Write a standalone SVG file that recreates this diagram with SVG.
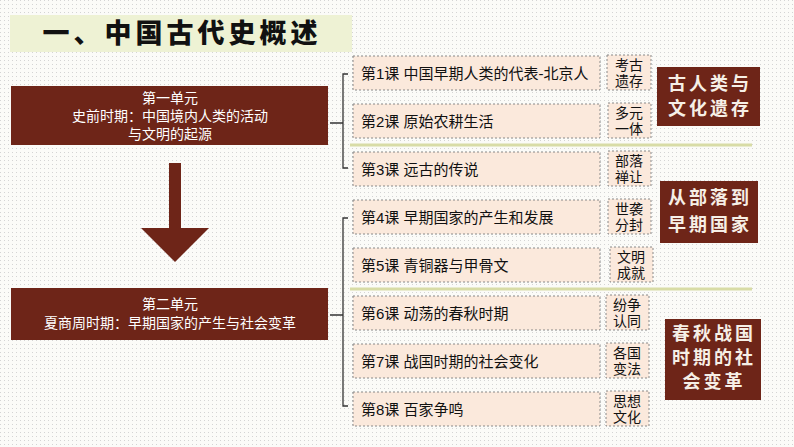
<svg xmlns="http://www.w3.org/2000/svg" width="794" height="447" viewBox="0 0 794 447">
<style>
.ls{fill:#fbe9dc;stroke:#888;stroke-width:1;stroke-dasharray:2 2}
.lt{font-family:"Liberation Sans","Noto Sans CJK SC",sans-serif;font-size:15px;fill:#111}
.st{font-family:"Liberation Sans","Noto Sans CJK SC",sans-serif;font-size:14px;fill:#111;text-anchor:middle}
.dk{fill:#6e2518}
.wt{font-family:"Liberation Sans","Noto Sans CJK SC",sans-serif;font-size:14px;fill:#fff;text-anchor:middle}
.bt{font-family:"Noto Sans CJK SC",serif;font-size:18px;font-weight:bold;fill:#f6efe6;text-anchor:middle;letter-spacing:3px}
.br{fill:none;stroke:#333;stroke-width:1.3}
.sep{stroke:#d8dca6;stroke-width:3}
</style>
<defs>
<pattern id="dots" width="4" height="4" patternUnits="userSpaceOnUse"><rect width="4" height="4" fill="#fbfbf8"/><rect width="1" height="1" fill="#d4d4d4"/></pattern>
</defs>
<rect width="794" height="447" fill="url(#dots)"/>
<g id="title"><rect x="10" y="15" width="342" height="37" fill="#eef2d4"/>
<text x="182" y="43" font-family="Noto Sans CJK SC,serif" font-size="27" font-weight="900" text-anchor="middle" fill="#111" letter-spacing="4">一、中国古代史概述</text></g>
<g id="connectors">
<path class="br" d="M348 74 H343 V168 H348 M343 123 H330"/>
<path class="br" d="M348 218 H343 V406 H348 M343 315 H330"/>
<path d="M169 163 H181 V228 H209 L175 262 L141 228 H169 Z" fill="#6e2518"/>
<line class="sep" x1="350" y1="145" x2="752" y2="145"/>
<line class="sep" x1="350" y1="289" x2="752" y2="289"/>
</g>
<g id="unit1"><rect class="dk" x="11" y="86" width="317" height="59"/>
<text class="wt" x="170" y="103">第一单元</text><text class="wt" x="170" y="121">史前时期：中国境内人类的活动</text><text class="wt" x="170" y="139">与文明的起源</text></g>
<g id="unit2"><rect class="dk" x="11" y="288" width="317" height="52"/>
<text class="wt" x="170" y="309">第二单元</text><text class="wt" x="170" y="328">夏商周时期：早期国家的产生与社会变革</text></g>
<g id="l1"><rect class="ls" x="353" y="56" width="247" height="34"/><text class="lt" x="361" y="79">第1课 中国早期人类的代表-北京人</text><rect class="ls" x="607" y="55" width="44" height="35"/><text class="st" x="629" y="70">考古</text><text class="st" x="629" y="86">遗存</text></g>
<g id="l2"><rect class="ls" x="353" y="104" width="247" height="34"/><text class="lt" x="361" y="127">第2课 原始农耕生活</text><rect class="ls" x="608" y="103" width="43" height="35"/><text class="st" x="629" y="118">多元</text><text class="st" x="629" y="134">一体</text></g>
<g id="l3"><rect class="ls" x="353" y="152" width="247" height="34"/><text class="lt" x="361" y="175">第3课 远古的传说</text><rect class="ls" x="608" y="151" width="43" height="35"/><text class="st" x="629" y="166">部落</text><text class="st" x="629" y="182">禅让</text></g>
<g id="l4"><rect class="ls" x="353" y="200" width="247" height="34"/><text class="lt" x="361" y="223">第4课 早期国家的产生和发展</text><rect class="ls" x="608" y="199" width="43" height="35"/><text class="st" x="629" y="214">世袭</text><text class="st" x="629" y="230">分封</text></g>
<g id="l5"><rect class="ls" x="353" y="248" width="247" height="34"/><text class="lt" x="361" y="271">第5课 青铜器与甲骨文</text><rect class="ls" x="610" y="247" width="43" height="35"/><text class="st" x="631" y="262">文明</text><text class="st" x="631" y="278">成就</text></g>
<g id="l6"><rect class="ls" x="353" y="296" width="247" height="34"/><text class="lt" x="361" y="319">第6课 动荡的春秋时期</text><rect class="ls" x="606" y="295" width="43" height="35"/><text class="st" x="627" y="310">纷争</text><text class="st" x="627" y="326">认同</text></g>
<g id="l7"><rect class="ls" x="353" y="344" width="247" height="34"/><text class="lt" x="361" y="367">第7课 战国时期的社会变化</text><rect class="ls" x="606" y="343" width="43" height="35"/><text class="st" x="627" y="358">各国</text><text class="st" x="627" y="374">变法</text></g>
<g id="l8"><rect class="ls" x="353" y="392" width="247" height="34"/><text class="lt" x="361" y="415">第8课 百家争鸣</text><rect class="ls" x="606" y="391" width="43" height="35"/><text class="st" x="627" y="406">思想</text><text class="st" x="627" y="422">文化</text></g>
<g id="s1"><rect class="dk" x="657" y="67" width="103" height="59"/><text class="bt" x="710" y="90">古人类与</text><text class="bt" x="710" y="115">文化遗存</text></g>
<g id="s2"><rect class="dk" x="660" y="181" width="98" height="62"/><text class="bt" x="710" y="204">从部落到</text><text class="bt" x="710" y="231">早期国家</text></g>
<g id="s3"><rect class="dk" x="665" y="319" width="96" height="81"/><text class="bt" x="714" y="340">春秋战国</text><text class="bt" x="714" y="364">时期的社</text><text class="bt" x="714" y="388">会变革</text></g>
</svg>
